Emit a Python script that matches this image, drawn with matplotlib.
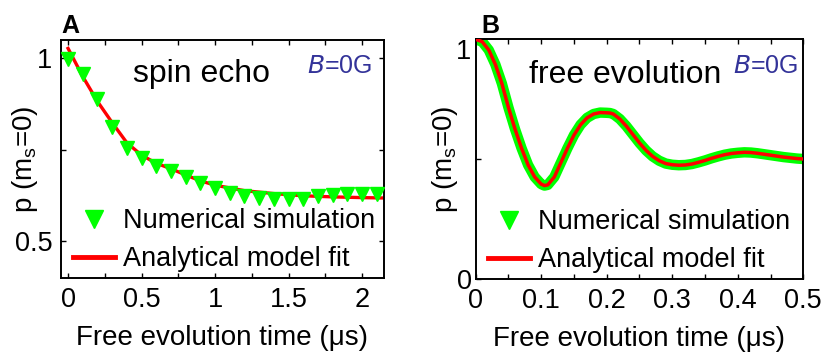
import matplotlib.pyplot as plt
from matplotlib.lines import Line2D

plt.rcParams['font.family'] = ['Liberation Sans', 'DejaVu Sans']

# panel A: spin echo
sim_a_t = [0.0, 0.1, 0.2, 0.3, 0.4, 0.5, 0.6, 0.7, 0.8, 0.9, 1.0,
           1.1, 1.2, 1.3, 1.4, 1.5, 1.6, 1.7, 1.8, 1.9, 2.0, 2.1]
sim_a_p = [0.997, 0.956, 0.890, 0.813, 0.756, 0.726, 0.705, 0.692, 0.674, 0.659, 0.644,
           0.632, 0.623, 0.618, 0.615, 0.614, 0.616, 0.623, 0.626, 0.628, 0.629, 0.630]
fit_a_t = [0.0, 0.1, 0.2, 0.3, 0.4, 0.5, 0.6, 0.7, 0.8, 0.9, 1.0,
           1.2, 1.4, 1.6, 1.8, 2.0, 2.15]
fit_a_p = [1.027, 0.950, 0.882, 0.824, 0.769, 0.735, 0.713, 0.698, 0.681, 0.665, 0.653,
           0.638, 0.630, 0.624, 0.621, 0.619, 0.618]

# panel B: free evolution (simulation and fit coincide at this resolution)
sim_b_t = [0.00, 0.01, 0.02, 0.03, 0.04, 0.05, 0.06, 0.07, 0.08, 0.09,
           0.10, 0.105, 0.11, 0.12, 0.13, 0.14, 0.15, 0.16, 0.17, 0.18, 0.19,
           0.20, 0.205, 0.21, 0.22, 0.23, 0.24, 0.25, 0.26, 0.27, 0.28, 0.29,
           0.30, 0.31, 0.32, 0.33, 0.34, 0.35, 0.36, 0.37, 0.38, 0.39,
           0.40, 0.41, 0.42, 0.43, 0.44, 0.45, 0.46, 0.47, 0.48, 0.49, 0.50]
sim_b_p = [1.000, 0.990, 0.955, 0.895, 0.815, 0.715, 0.625, 0.545, 0.475, 0.425,
           0.395, 0.389, 0.392, 0.425, 0.485, 0.545, 0.600, 0.643, 0.672, 0.688, 0.694,
           0.693, 0.692, 0.688, 0.667, 0.637, 0.602, 0.567, 0.536, 0.511, 0.493, 0.481,
           0.476, 0.474, 0.475, 0.479, 0.486, 0.494, 0.503, 0.511, 0.518, 0.523,
           0.526, 0.528, 0.527, 0.524, 0.520, 0.516, 0.512, 0.508, 0.505, 0.502, 0.500]
fit_b_t = sim_b_t
fit_b_p = sim_b_p

green = '#00ff00'
red = '#ff0000'
blue = '#333399'

fig = plt.figure(figsize=(8.25, 3.58), dpi=100)
axA = fig.add_axes([0.0736, 0.2243, 0.3919, 0.664])
axB = fig.add_axes([0.5766, 0.2215, 0.3971, 0.6687])

# A
axA.plot(fit_a_t, fit_a_p, color=red, lw=2.4, zorder=2)
axA.plot(sim_a_t, sim_a_p, 'v', color=green, ms=10, mec=green, zorder=3)
axA.set_xlim(-0.05, 2.15)
axA.set_ylim(0.4, 1.05)
axA.set_xticks([0, 0.25, 0.5, 0.75, 1, 1.25, 1.5, 1.75, 2])
axA.set_xticklabels(['0', '', '0.5', '', '1', '', '1.5', '', '2'])
axA.set_yticks([0.5, 0.75, 1])
axA.set_yticklabels(['0.5', '', '1'])
axA.tick_params(axis='x', pad=7)
axA.tick_params(axis='y', pad=6)
axA.text(0.436, 0.825, 'spin echo', transform=axA.transAxes, fontsize=23, ha='center',
         va='baseline')
axA.text(0.963, 0.862, '$\\mathit{B}$=0G', transform=axA.transAxes, fontsize=18, ha='right',
         va='baseline', color=blue)
axA.text(0.075, 0.908, 'A', transform=fig.transFigure, fontsize=18, fontweight='bold')
axA.yaxis.set_label_coords(-0.064, 0.52)

# B
axB.plot(sim_b_t, sim_b_p, color=green, lw=7.5, solid_capstyle='round', zorder=2)
axB.plot(fit_b_t, fit_b_p, color=red, lw=2.5, zorder=3)
axB.set_xlim(0, 0.5)
axB.set_ylim(0, 1)
axB.set_xticks([0, 0.05, 0.1, 0.15, 0.2, 0.25, 0.3, 0.35, 0.4, 0.45, 0.5])
axB.set_xticklabels(['0', '', '0.1', '', '0.2', '', '0.3', '', '0.4', '', '0.5'])
axB.set_yticks([0, 0.5, 1])
axB.set_yticklabels(['0', '', '1'])
axB.get_yticklabels()[-1].set_va('top')
axB.tick_params(axis='x', pad=7)
axB.tick_params(axis='y', pad=3)
axB.text(0.456, 0.816, 'free evolution', transform=axB.transAxes, fontsize=23, ha='center',
         va='baseline')
axB.text(0.984, 0.860, '$\\mathit{B}$=0G', transform=axB.transAxes, fontsize=18, ha='right',
         va='baseline', color=blue)
axB.text(0.584, 0.908, 'B', transform=fig.transFigure, fontsize=18, fontweight='bold')
axB.yaxis.set_label_coords(-0.048, 0.475)

for ax, right in ((axA, True), (axB, False)):
    ax.tick_params(direction='in', length=3.5, width=1, top=True, right=right, labelsize=19.5)
    for s in ax.spines.values():
        s.set_linewidth(1.4)
    ax.set_xlabel('Free evolution time (μs)', fontsize=20, labelpad=8)
    ax.set_ylabel('p (m$_\\mathregular{s}$=0)', fontsize=20)
    handles = [Line2D([], [], marker='v', ls='none', color=green, ms=13),
               Line2D([], [], color=red, lw=3.5)]
    ax.legend(handles, ['Numerical simulation', 'Analytical model fit'], loc='lower left',
              bbox_to_anchor=(0.02, 0.0), frameon=False, fontsize=19.5, handlelength=1.55,
              handletextpad=0.3, labelspacing=0.45, borderpad=0.2, borderaxespad=0)

fig.savefig('out.png', dpi=100)
